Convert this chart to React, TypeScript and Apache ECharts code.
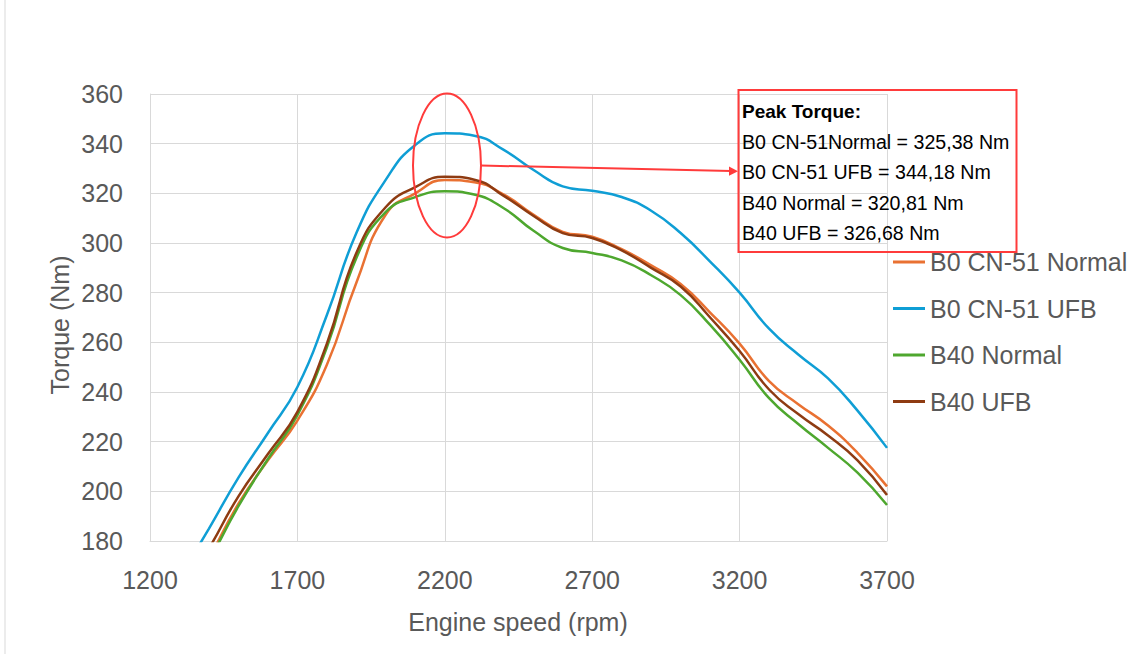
import React, { useEffect, useRef } from "react";
import * as echarts from "echarts";

const rpm = [
  1300, 1400, 1500, 1600, 1700, 1800, 1900, 2000, 2100, 2200, 2300, 2400, 2500,
  2600, 2700, 2800, 2900, 3000, 3100, 3200, 3300, 3400, 3500, 3600, 3700,
];
const b0Normal = [
  152, 173, 195, 212.5, 228.5, 251, 284, 311.5, 320, 325.38, 324.5, 319.5, 311.5,
  304.5, 302.5, 297.5, 291, 283.5, 272, 259.5, 244.4, 235, 226.5, 215.5, 202,
];
const b0UFB = [
  165, 185, 205.5, 223.5, 242, 271, 304, 325.5, 339.5, 344.18, 343.2, 337.5, 329.5,
  322.8, 321, 318.5, 313, 304, 292.5, 280, 265.5, 255, 245.5, 232.5, 217.5,
];
const b40Normal = [
  152, 172, 194, 213, 230.7, 258, 294, 312.5, 318.5, 320.81, 319.5, 314, 305,
  298, 296, 293, 287, 279, 267, 253, 237.5, 227, 217.5, 207.5, 194.5,
];
const b40UFB = [
  158, 177, 198, 215, 232, 259.5, 296, 314.5, 322.5, 326.68, 325.5, 319, 311,
  304, 302, 297, 290, 282.5, 270, 256.5, 241, 231, 222.5, 212.5, 198.5,
];

const seriesNames = ["B0 CN-51 Normal", "B0 CN-51 UFB", "B40 Normal", "B40 UFB"];
const seriesColors = ["#E97132", "#0F9ED5", "#4EA72E", "#8E3B12"];
const seriesValues = [b0Normal, b0UFB, b40Normal, b40UFB];

const annotationTitle = "Peak Torque:";
const annotationLines = [
  "B0 CN-51Normal = 325,38 Nm",
  "B0 CN-51 UFB = 344,18 Nm",
  "B40 Normal = 320,81 Nm",
  "B40 UFB = 326,68 Nm",
];

const xName = "Engine speed (rpm)";
const yName = "Torque (Nm)";

const FONT = "'Liberation Sans', Arial, sans-serif";
const GRID = "#d9d9d9";
const TEXT = "#595959";
const RED = "#ff3b3b";

export default function App() {
  const ref = useRef<HTMLDivElement>(null);
  useEffect(() => {
    document.body.style.margin = "0";
    const chart = echarts.init(ref.current!, null, { renderer: "svg" });
    const series = seriesNames.map((name, i) => ({
      name,
      type: "line",
      smooth: 0.5,
      symbol: "none",
      clip: true,
      data: rpm.map((x, j) => [x, seriesValues[i][j]]),
      lineStyle: { color: seriesColors[i], width: 2.5 },
      itemStyle: { color: seriesColors[i] },
    }));
    const graphic: any[] = [
      { type: "line", z: 100, shape: { x1: 5, y1: 0, x2: 5, y2: 654 }, style: { stroke: GRID, lineWidth: 1 } },
      {
        type: "ellipse",
        z: 100,
        shape: { cx: 447, cy: 165.5, rx: 34, ry: 72 },
        style: { fill: "none", stroke: RED, lineWidth: 2 },
      },
      {
        type: "line",
        z: 100,
        shape: { x1: 481, y1: 165.5, x2: 731, y2: 171 },
        style: { stroke: RED, lineWidth: 2 },
      },
      {
        type: "polygon",
        z: 100,
        shape: { points: [[738, 171.2], [729, 166.5], [729, 175.8]] },
        style: { fill: RED },
      },
      {
        type: "rect",
        z: 100,
        shape: { x: 738.5, y: 90, width: 278, height: 162 },
        style: { fill: "none", stroke: RED, lineWidth: 2 },
      },
      {
        type: "text",
        z: 101,
        x: 742,
        y: 111,
        style: {
          text: annotationTitle,
          font: `bold 19px ${FONT}`,
          fill: "#000",
          verticalAlign: "middle",
        },
      },
      ...annotationLines.map((t, i) => ({
        type: "text",
        z: 101,
        x: 742,
        y: 141.5 + i * 30.5,
        style: {
          text: t,
          font: `19.6px ${FONT}`,
          fill: "#000",
          verticalAlign: "middle",
        },
      })),
      {
        type: "text",
        z: 101,
        x: 518,
        y: 622,
        style: {
          text: xName,
          font: `25px ${FONT}`,
          fill: TEXT,
          align: "center",
          verticalAlign: "middle",
        },
      },
      {
        type: "text",
        z: 101,
        x: 60,
        y: 325,
        rotation: Math.PI / 2,
        style: {
          text: yName,
          font: `25px ${FONT}`,
          fill: TEXT,
          align: "center",
          verticalAlign: "middle",
        },
      },
    ];
    chart.setOption({
      animation: false,
      backgroundColor: "#ffffff",
      grid: { left: 150, right: 245, top: 94, bottom: 113, containLabel: false },
      xAxis: {
        type: "value",
        min: 1200,
        max: 3700,
        interval: 500,
        axisLine: { show: true, lineStyle: { color: GRID, width: 1 } },
        axisTick: { show: false },
        splitLine: { show: true, lineStyle: { color: GRID, width: 1 } },
        axisLabel: {
          color: TEXT,
          fontSize: 25,
          fontFamily: FONT,
          margin: 26,
          formatter: (v: number) => String(v),
        },
      },
      yAxis: {
        type: "value",
        min: 180,
        max: 360,
        interval: 20,
        axisLine: { show: true, lineStyle: { color: GRID, width: 1 } },
        axisTick: { show: false },
        splitLine: { show: true, lineStyle: { color: GRID, width: 1 } },
        axisLabel: { color: TEXT, fontSize: 25, fontFamily: FONT, margin: 27 },
      },
      legend: {
        orient: "vertical",
        left: 893,
        top: 249.5,
        padding: 0,
        itemWidth: 32,
        itemHeight: 3,
        itemGap: 21.5,
        icon: "rect",
        textStyle: { color: TEXT, fontSize: 25, fontFamily: FONT, lineHeight: 25 },
        data: seriesNames,
      },
      series,
      graphic,
    });
    return () => chart.dispose();
  }, []);
  return <div ref={ref} style={{ width: 1132, height: 654 }} />;
}
